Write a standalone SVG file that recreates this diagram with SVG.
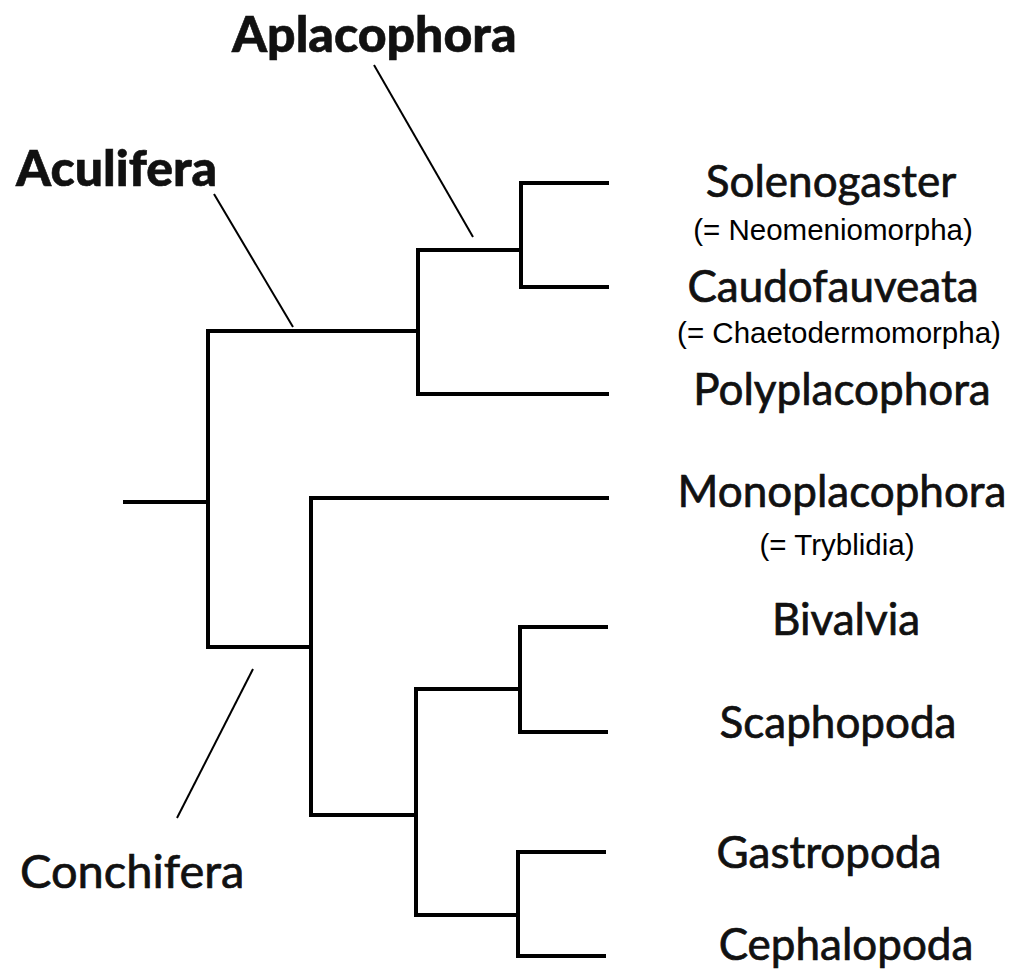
<svg xmlns="http://www.w3.org/2000/svg" width="1013" height="977" viewBox="0 0 1013 977">
<style>
.tree{stroke:#000;stroke-width:4;fill:none;stroke-linecap:square;stroke-linejoin:miter}
.ptr{stroke:#000;stroke-width:2;fill:none}
.taxon{font-family:Lato,"Open Sans","Liberation Sans",sans-serif;font-size:44px;fill:#111;stroke:#111;stroke-width:0.7;text-anchor:middle}
.big{font-family:Lato,"Liberation Sans",sans-serif;font-weight:900;font-size:50px;fill:#111;stroke:#111;stroke-width:0.6}
.syn{font-family:"Liberation Sans",Arial,sans-serif;font-size:29.5px;fill:#000;text-anchor:middle}
.clade{font-family:Lato,"Open Sans","Liberation Sans",sans-serif;font-size:47px;fill:#111;stroke:#111;stroke-width:0.7}
</style>
<rect width="1013" height="977" fill="#fff"/>
<g id="connectors">
<path class="tree" d="M125,502 H208 M208,331 V647 M208,331 H418 M418,250 V394 M418,250 H521 M521,183 V287 M521,183 H607 M521,287 H607 M418,394 H607 M208,647 H311 M311,498 V815 M311,498 H607 M311,815 H416 M416,689 V915 M416,689 H520 M520,627 V732 M520,627 H606 M520,732 H606 M416,915 H518 M518,852 V956 M518,852 H604 M518,956 H604"/>
<line class="ptr" x1="374" y1="65" x2="473" y2="237"/>
<line class="ptr" x1="214" y1="194" x2="293" y2="327"/>
<line class="ptr" x1="253" y1="669" x2="177" y2="818"/>
</g>
<g id="aplacophora"><text class="big" x="232" y="52">Aplacophora</text></g>
<g id="aculifera"><text class="big" x="16" y="186">Aculifera</text></g>
<g id="conchifera"><text class="clade" x="20" y="888">Conchifera</text></g>
<g id="solenogaster"><text class="taxon" x="831" y="197">Solenogaster</text><text class="syn" x="833" y="240">(= Neomeniomorpha)</text></g>
<g id="caudofauveata"><text class="taxon" x="833" y="302">Caudofauveata</text><text class="syn" x="839" y="343">(= Chaetodermomorpha)</text></g>
<g id="polyplacophora"><text class="taxon" x="842" y="405">Polyplacophora</text></g>
<g id="monoplacophora"><text class="taxon" x="842" y="507">Monoplacophora</text><text class="syn" x="837" y="555">(= Tryblidia)</text></g>
<g id="bivalvia"><text class="taxon" x="846" y="635">Bivalvia</text></g>
<g id="scaphopoda"><text class="taxon" x="838" y="738">Scaphopoda</text></g>
<g id="gastropoda"><text class="taxon" x="829" y="868">Gastropoda</text></g>
<g id="cephalopoda"><text class="taxon" x="846" y="960">Cephalopoda</text></g>
</svg>
